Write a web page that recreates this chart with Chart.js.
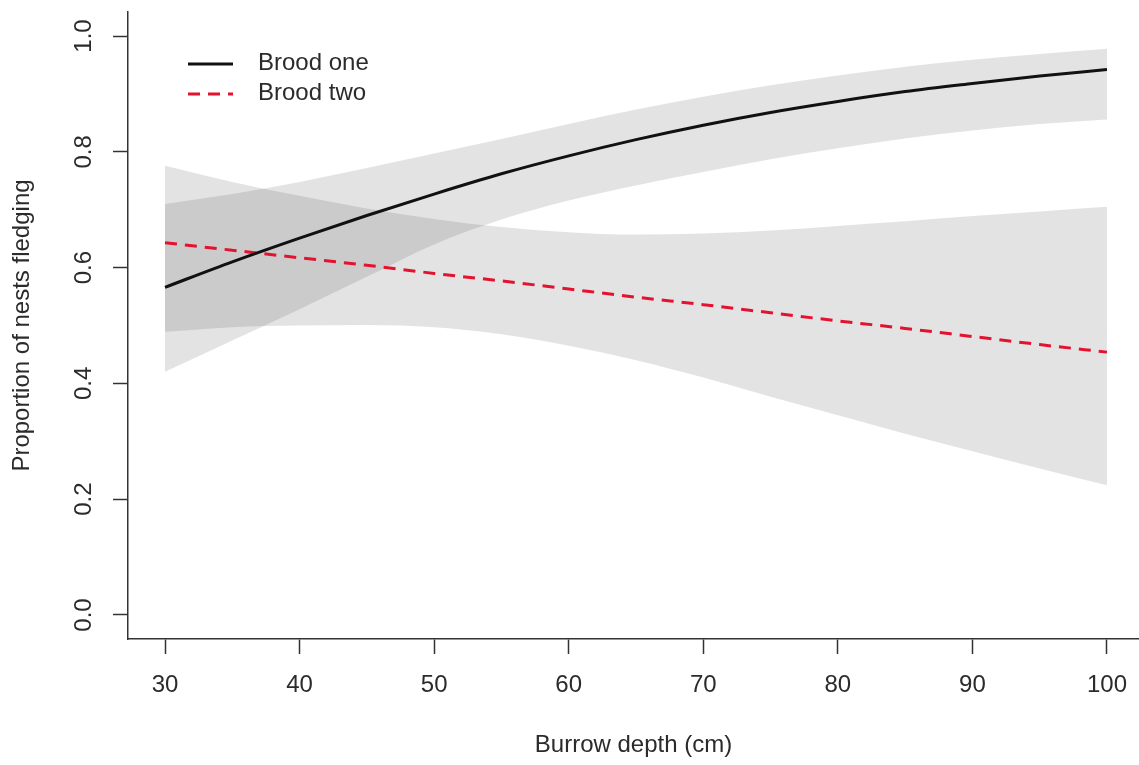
<!DOCTYPE html>
<html>
<head>
<meta charset="utf-8">
<script src="https://cdn.jsdelivr.net/npm/chart.js@4.4.1/dist/chart.umd.min.js"></script>
<style>
  html, body { margin: 0; padding: 0; background: #ffffff; }
  #wrap { width: 1139px; height: 765px; }
</style>
</head>
<body>
<div id="wrap"><canvas id="c" width="1139" height="765"></canvas></div>
<script>
// ---- data ----
const depth = [30, 35, 40, 45, 50, 55, 60, 65, 70, 75, 80, 85, 90, 95, 100];

const broodOneFit   = [0.566, 0.610, 0.651, 0.690, 0.727, 0.762, 0.793, 0.821, 0.846, 0.868, 0.887, 0.904, 0.918, 0.931, 0.942];
const broodOneUpper = [0.710, 0.727, 0.748, 0.772, 0.797, 0.822, 0.848, 0.873, 0.895, 0.915, 0.932, 0.947, 0.959, 0.969, 0.978];
const broodOneLower = [0.420, 0.474, 0.528, 0.584, 0.640, 0.683, 0.716, 0.742, 0.765, 0.787, 0.806, 0.823, 0.837, 0.848, 0.856];

const broodTwoFit   = [0.643, 0.630, 0.617, 0.604, 0.590, 0.577, 0.563, 0.549, 0.536, 0.522, 0.508, 0.495, 0.481, 0.467, 0.454];
const broodTwoUpper = [0.776, 0.748, 0.724, 0.702, 0.684, 0.670, 0.661, 0.657, 0.659, 0.664, 0.672, 0.680, 0.689, 0.697, 0.705];
const broodTwoLower = [0.489, 0.497, 0.500, 0.501, 0.497, 0.485, 0.465, 0.440, 0.410, 0.377, 0.345, 0.313, 0.283, 0.253, 0.224];

const xTicks = [30, 40, 50, 60, 70, 80, 90, 100];
const yTicks = [0.0, 0.2, 0.4, 0.6, 0.8, 1.0];

const seriesNames = ['Brood one', 'Brood two'];
const xTitle = 'Burrow depth (cm)';
const yTitle = 'Proportion of nests fledging';

// ---- styling ----
const FONT = "'Liberation Sans', Arial, Helvetica, sans-serif";
const TEXT = '#2b2b2b';
const AXIS = '#333333';
const BAND = 'rgba(0,0,0,0.11)';

const pts = (arr) => depth.map((x, i) => ({ x: x, y: arr[i] }));

const bandEdge = (arr, fill) => ({
  data: pts(arr),
  borderWidth: 0,
  borderColor: 'rgba(0,0,0,0)',
  backgroundColor: BAND,
  pointRadius: 0,
  fill: fill,
  cubicInterpolationMode: 'monotone'
});

const legendPlugin = {
  id: 'rLegend',
  afterDraw(chart) {
    const ctx = chart.ctx;
    const items = chart.data.datasets.filter(d => d.inLegend);
    items.forEach((d, i) => {
      const y = 64 + i * 30;
      ctx.save();
      ctx.strokeStyle = d.borderColor;
      ctx.lineWidth = d.borderWidth;
      ctx.setLineDash(d.borderDash || []);
      ctx.beginPath();
      ctx.moveTo(188, y);
      ctx.lineTo(233, y);
      ctx.stroke();
      ctx.setLineDash([]);
      ctx.fillStyle = TEXT;
      ctx.font = '24px ' + FONT;
      ctx.textBaseline = 'alphabetic';
      ctx.textAlign = 'left';
      ctx.fillText(d.label, 258, y + 6);
      ctx.restore();
    });
  }
};

new Chart(document.getElementById('c'), {
  type: 'line',
  data: {
    datasets: [
      {
        label: seriesNames[0], inLegend: true,
        data: pts(broodOneFit),
        borderColor: '#111111', borderWidth: 3,
        pointRadius: 0, fill: false, cubicInterpolationMode: 'monotone'
      },
      {
        label: seriesNames[1], inLegend: true,
        data: pts(broodTwoFit),
        borderColor: '#e3122f', borderWidth: 3, borderDash: [12, 8],
        pointRadius: 0, fill: false, cubicInterpolationMode: 'monotone'
      },
      bandEdge(broodOneUpper, '+1'),
      bandEdge(broodOneLower, false),
      bandEdge(broodTwoUpper, '+1'),
      bandEdge(broodTwoLower, false)
    ]
  },
  options: {
    responsive: false,
    animation: false,
    events: [],
    layout: { padding: { top: 12, left: 0, right: 0, bottom: 0 } },
    plugins: {
      legend: { display: false },
      tooltip: { enabled: false },
      title: { display: false }
    },
    font: { family: FONT },
    scales: {
      x: {
        type: 'linear',
        min: 27.25,
        max: 102.38,
        afterBuildTicks: (s) => { s.ticks = xTicks.map(v => ({ value: v })); },
        afterFit: (s) => { s.height = 126; s.paddingLeft = 0; s.paddingRight = 0; },
        grid: { drawOnChartArea: false, drawTicks: true, tickLength: 15, tickColor: AXIS, tickWidth: 1.5 },
        border: { display: true, color: AXIS, width: 1.5 },
        ticks: {
          autoSkip: false, maxRotation: 0, minRotation: 0, padding: 17,
          color: TEXT, font: { family: FONT, size: 24 },
          callback: (v) => String(v)
        },
        title: {
          display: true, text: xTitle, color: TEXT,
          font: { family: FONT, size: 24 },
          padding: { top: 0, bottom: 5 }
        }
      },
      y: {
        type: 'linear',
        min: -0.0415,
        max: 1.0415,
        afterBuildTicks: (s) => { s.ticks = yTicks.map(v => ({ value: v })); },
        afterFit: (s) => { s.width = 128; s.paddingTop = 0; s.paddingBottom = 0; },
        grid: { drawOnChartArea: false, drawTicks: true, tickLength: 15, tickColor: AXIS, tickWidth: 1.5 },
        border: { display: true, color: AXIS, width: 1.5 },
        ticks: {
          autoSkip: false, minRotation: 90, maxRotation: 90, crossAlign: 'center', padding: 12,
          color: TEXT, font: { family: FONT, size: 24 },
          callback: (v) => Number(v).toFixed(1)
        },
        title: {
          display: true, text: yTitle, color: TEXT,
          font: { family: FONT, size: 24 },
          padding: { top: 8, bottom: 0 }
        }
      }
    }
  },
  plugins: [legendPlugin]
});
</script>
</body>
</html>
